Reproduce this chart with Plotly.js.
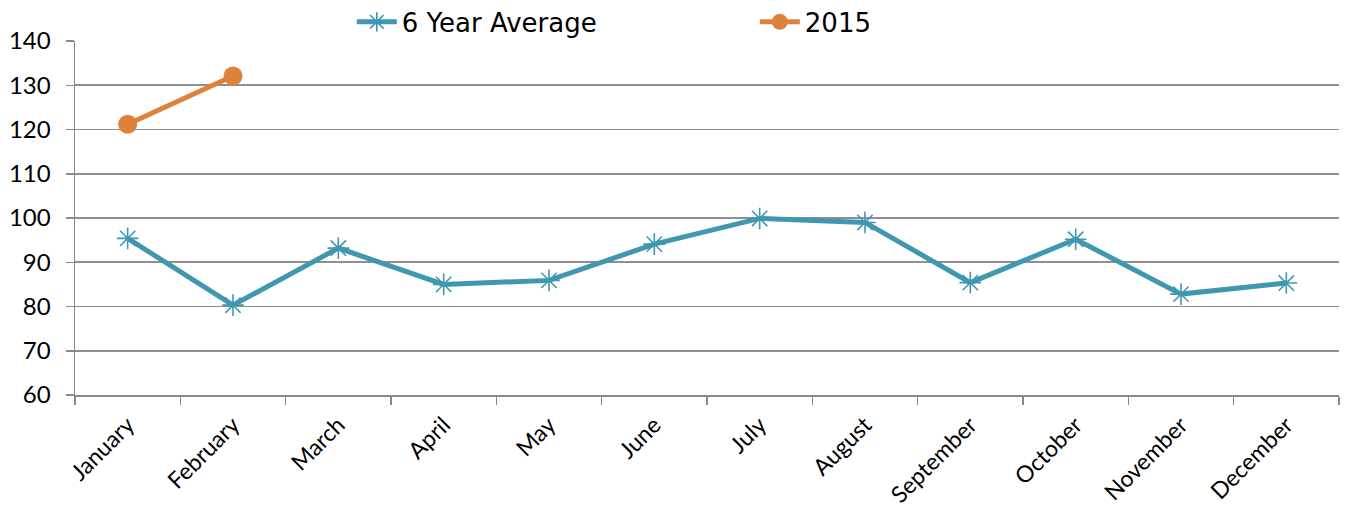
<!DOCTYPE html>
<html>
<head>
<meta charset="utf-8">
<script src="https://cdn.plot.ly/plotly-3.0.1.min.js"></script>
<style>html,body{margin:0;padding:0;background:#fff;}#chart{width:1346px;height:516px;}</style>
</head>
<body>
<div id="chart"></div>
<script>
const months = ["January","February","March","April","May","June","July","August","September","October","November","December"];
const avg6 = [95.4, 80.3, 93.2, 85.0, 85.9, 94.1, 99.9, 99.0, 85.4, 95.2, 82.8, 85.3];
const months2015 = ["January","February"];
const y2015 = [121.2, 132.1];
const yTicks = [60,70,80,90,100,110,120,130,140];

const teal = "#3F97B0";
const orange = "#DE823B";

const traces = [
  {
    x: months, y: avg6, name: "6 Year Average", type: "scatter", mode: "lines+markers",
    line: {color: teal, width: 5},
    marker: {symbol: "asterisk-open", size: 18, color: teal, line: {color: teal, width: 1.6}}
  },
  {
    x: months2015, y: y2015, name: "2015", type: "scatter", mode: "lines+markers",
    line: {color: orange, width: 5},
    marker: {symbol: "circle", size: 19, color: orange}
  }
];

const layout = {
  width: 1346, height: 516,
  margin: {l: 75, r: 7, t: 41, b: 121, autoexpand: false},
  paper_bgcolor: "#fff", plot_bgcolor: "#fff",
  showlegend: true,
  legend: {
    orientation: "h", x: 0.219, xanchor: "left", y: 1.054, yanchor: "middle",
    entrywidth: 348, entrywidthmode: "pixels",
    font: {family: "DejaVu Sans, Arial, sans-serif", size: 26, color: "#000"},
    itemwidth: 40, tracegroupgap: 0, bgcolor: "rgba(0,0,0,0)"
  },
  xaxis: {
    type: "category", categoryorder: "array", categoryarray: months,
    range: [-0.5, 11.5],
    tickson: "boundaries", ticks: "outside", ticklen: 8, tickcolor: "#888", tickwidth: 1.5,
    showgrid: false, showline: true, linecolor: "#888", linewidth: 1.5,
    tickangle: -45, ticklabelstandoff: 6,
    tickfont: {family: "Lato, Carlito, sans-serif", size: 23, color: "#000"},
    zeroline: false, fixedrange: true
  },
  yaxis: {
    range: [60, 140], tickmode: "array", tickvals: yTicks, ticktext: yTicks.map(String),
    ticks: "outside", ticklen: 8, tickcolor: "#888", tickwidth: 1.5,
    showgrid: true, gridcolor: "#8f8f8f", gridwidth: 1.6,
    showline: true, linecolor: "#888", linewidth: 1.5,
    ticklabelstandoff: 10,
    tickfont: {family: "Lato, Carlito, sans-serif", size: 24, color: "#000"},
    zeroline: false, fixedrange: true
  }
};

Plotly.newPlot("chart", traces, layout, {displayModeBar: false, staticPlot: true});
</script>
</body>
</html>
